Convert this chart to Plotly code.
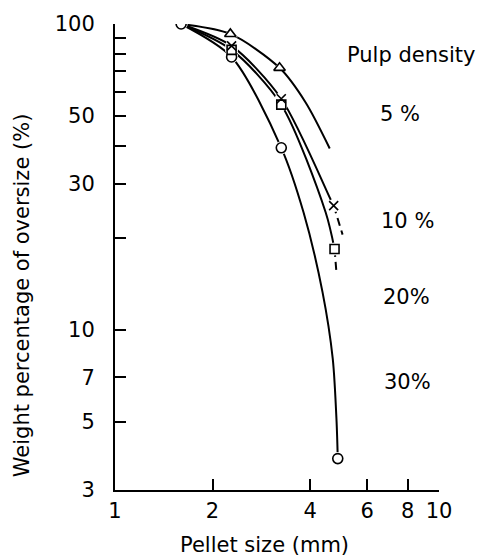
import plotly.graph_objects as go

# ---- data (pellet size mm, weight % oversize) ----
# measured points
x_30 = [1.60, 2.29, 3.26, 4.87]
y_30 = [100, 78.0, 39.4, 3.80]
x_20 = [2.29, 3.26, 4.76]
y_20 = [82.3, 54.5, 18.4]
x_10 = [2.29, 3.26, 4.73]
y_10 = [84.8, 57.0, 25.5]
x_5 = [2.27, 3.22]
y_5 = [92.8, 71.9]

# fitted curves
cx_30 = [1.60, 2.29, 3.26, 3.82, 4.37, 4.70, 4.83, 4.87]
cy_30 = [100, 78.0, 39.4, 24.2, 13.3, 8.05, 5.0, 3.80]
cx_20 = [1.60, 2.29, 3.26, 4.47, 4.76]
cy_20 = [100, 82.3, 54.5, 24.2, 18.4]
ex_20 = [4.76, 4.83]
ey_20 = [18.4, 15.2]
cx_10 = [1.60, 2.29, 3.26, 4.63, 4.73]
cy_10 = [100, 84.8, 57.0, 26.7, 25.5]
ex_10 = [4.73, 5.04]
ey_10 = [25.5, 20.5]
cx_5 = [1.60, 2.27, 3.22, 3.88, 4.60]
cy_5 = [100, 92.8, 71.9, 55.3, 39.2]

# axis ticks
x_tickvals = [1, 2, 4, 6, 8, 10]
x_ticktext = ["1", "2", "4", "6", "8", "10"]
y_tickvals = [3, 5, 7, 10, 20, 30, 40, 50, 60, 70, 80, 90, 100]
y_ticktext = ["3", "5", "7", "10", "", "30", "", "50", "", "", "", "", "100"]

labels = ["Pulp density", "5 %", "10 %", "20%", "30%"]

FONT = "DejaVu Sans"
LW = 2

fig = go.Figure()

# curves
for cx, cy in [(cx_30, cy_30), (cx_20, cy_20), (cx_10, cy_10), (cx_5, cy_5)]:
    fig.add_trace(go.Scatter(x=cx, y=cy, mode="lines",
                             line=dict(color="black", width=LW, shape="spline", smoothing=0.8),
                             hoverinfo="skip", showlegend=False))
for ex, ey in [(ex_20, ey_20), (ex_10, ey_10)]:
    fig.add_trace(go.Scatter(x=ex, y=ey, mode="lines",
                             line=dict(color="black", width=LW, dash="8px,5px"),
                             hoverinfo="skip", showlegend=False))

# white halos (gaps in lines around markers)
for xs, ys, sym in [(x_30, y_30, "circle"), (x_20, y_20, "circle"),
                    (x_10, y_10, "circle"), (x_5, y_5, "triangle-up")]:
    fig.add_trace(go.Scatter(x=xs, y=ys, mode="markers",
                             marker=dict(symbol=sym, size=13, color="white", line=dict(width=0)),
                             hoverinfo="skip", showlegend=False))

# markers
fig.add_trace(go.Scatter(x=x_30, y=y_30, mode="markers",
                         marker=dict(symbol="circle", size=10, color="white",
                                     line=dict(color="black", width=1.6)), showlegend=False))
fig.add_trace(go.Scatter(x=x_20, y=y_20, mode="markers",
                         marker=dict(symbol="square", size=9, color="white",
                                     line=dict(color="black", width=1.6)), showlegend=False))
fig.add_trace(go.Scatter(x=x_10, y=y_10, mode="markers",
                         marker=dict(symbol="x-thin", size=9, color="black",
                                     line=dict(color="black", width=1.6)), showlegend=False))
fig.add_trace(go.Scatter(x=x_5, y=y_5, mode="markers",
                         marker=dict(symbol="triangle-up", size=10, color="white",
                                     line=dict(color="black", width=1.6)), showlegend=False))

# text labels
label_pos = [(0.9136, 0.934), (0.880, 0.806), (0.904, 0.578), (0.901, 0.414), (0.904, 0.232)]
for t, (px, py) in zip(labels, label_pos):
    fig.add_annotation(text=t, x=px, y=py, xref="paper", yref="paper",
                       xanchor="center", yanchor="middle", showarrow=False,
                       font=dict(family=FONT, size=21, color="black"))

fig.add_annotation(text="Pellet size (mm)", x=0.46, y=-0.117, xref="paper", yref="paper",
                   xanchor="center", yanchor="middle", showarrow=False,
                   font=dict(family=FONT, size=21, color="black"))
fig.add_annotation(text="Weight percentage of oversize (%)", x=-0.287, y=0.418,
                   xref="paper", yref="paper", textangle=-90,
                   xanchor="center", yanchor="middle", showarrow=False,
                   font=dict(family=FONT, size=21, color="black"))

fig.update_xaxes(type="log", range=[0, 1], showline=True, linecolor="black", linewidth=2,
                 ticks="inside", ticklen=11, tickwidth=1.5, tickcolor="black",
                 tickvals=x_tickvals, ticktext=x_ticktext, showgrid=False, zeroline=False,
                 tickfont=dict(family=FONT, size=21, color="black"), ticklabelstandoff=1)
fig.update_yaxes(type="log", range=[0.4771, 2], showline=True, linecolor="black", linewidth=2,
                 ticks="inside", ticklen=11, tickwidth=1.5, tickcolor="black",
                 tickvals=y_tickvals, ticktext=y_ticktext, showgrid=False, zeroline=False,
                 tickfont=dict(family=FONT, size=21, color="black"), ticklabelstandoff=14)

fig.update_layout(width=481, height=559, margin=dict(l=115, r=42, t=21, b=69),
                  paper_bgcolor="white", plot_bgcolor="white", showlegend=False)

fig.write_html("out.html")
